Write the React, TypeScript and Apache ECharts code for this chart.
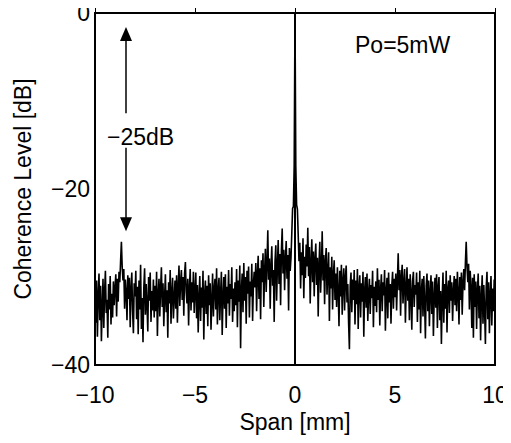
import React, { useEffect, useRef } from "react";
import * as echarts from "echarts";

// Span grid: -10 mm .. 10 mm, 0.04 mm step (501 samples)
const spanStart = -10;
const spanStep = 0.04;

// Coherence level [dB], left half: x = -10.00 .. -0.04 (rows of 1 mm)
const levelLeft: number[] = [
  -31.5, -35.2, -30.4, -36.8, -32.1, -29.6, -34.9, -31.0, -37.3, -33.5, -30.2, -35.8, -31.7, -29.3, -34.1, -32.6, -36.9, -30.8, -33.7, -29.9, -35.4, -31.9, -34.6, -30.5, -33.2,
  -31.3, -29.7, -34.5, -30.2, -32.8, -29.4, -30.6, -28.2, -26.0, -28.9, -30.4, -29.1, -33.6, -30.3, -31.8, -34.9, -29.8, -32.5, -30.1, -35.7, -31.4, -29.5, -33.9, -36.4, -30.7,
  -32.2, -29.3, -34.8, -31.1, -36.5, -30.4, -33.7, -28.6, -35.9, -32.4, -37.4, -31.2, -29.0, -34.3, -30.8, -33.1, -36.2, -30.0, -32.7, -29.5, -35.1, -31.6, -33.8, -30.3, -34.6,
  -31.0, -33.9, -29.4, -36.7, -32.0, -30.2, -34.5, -31.3, -28.9, -33.4, -30.7, -35.6, -32.3, -29.7, -34.0, -31.5, -36.9, -30.6, -33.0, -29.2, -35.3, -31.8, -30.1, -34.7, -32.5,
  -30.4, -33.6, -29.8, -35.2, -31.1, -28.7, -33.3, -30.5, -29.2, -32.6, -30.0, -34.4, -29.6, -28.3, -31.7, -33.0, -30.2, -35.5, -31.4, -29.1, -33.8, -30.6, -32.9, -29.4, -34.1,
  -31.6, -29.5, -34.7, -30.9, -36.3, -32.4, -29.9, -35.0, -31.2, -33.5, -29.3, -37.1, -32.0, -30.4, -34.2, -31.0, -35.6, -29.8, -33.2, -30.7, -36.0, -32.8, -29.6, -34.5, -31.4,
  -30.2, -33.7, -29.0, -35.4, -31.5, -30.1, -34.9, -31.9, -29.4, -36.6, -32.3, -30.0, -33.6, -29.7, -35.8, -31.1, -33.0, -29.2, -34.4, -30.8, -32.5, -28.9, -35.1, -31.3, -33.9,
  -30.6, -33.2, -29.1, -35.7, -30.4, -32.8, -28.7, -38.1, -31.5, -29.6, -34.0, -28.4, -32.7, -30.0, -35.3, -29.3, -31.9, -28.8, -34.6, -30.5, -32.2, -28.5, -35.0, -30.9, -29.4,
  -31.2, -28.4, -33.9, -29.7, -27.6, -32.5, -29.0, -34.8, -28.1, -30.6, -27.3, -33.4, -29.5, -26.8, -31.7, -28.6, -24.7, -30.3, -27.9, -33.6, -28.8, -26.5, -31.0, -29.2, -35.1,
  -28.3, -26.4, -32.7, -28.9, -25.8, -30.8, -27.4, -33.2, -27.0, -24.5, -29.6, -26.9, -31.5, -28.0, -25.9, -30.2, -27.5, -33.8, -26.7, -29.3, -27.8, -25.0, -22.2, -22.0, -17.3,
];

// Peak at zero span
const levelCenter = 0;

// Coherence level [dB], right half: x = 0.04 .. 10.00
const levelRight: number[] = [
  -17.4, -21.8, -22.3, -25.2, -28.2, -26.1, -31.3, -27.2, -29.8, -25.6, -32.4, -27.7, -30.1, -26.3, -28.8, -24.4, -29.9, -26.6, -33.0, -28.5, -25.7, -30.6, -27.1, -32.2, -28.0,
  -26.2, -30.9, -27.8, -34.5, -28.7, -26.0, -31.8, -29.1, -24.8, -30.4, -27.5, -33.1, -28.3, -26.7, -32.0, -29.4, -27.2, -35.0, -28.9, -31.3, -27.7, -33.7, -29.8, -28.1, -32.6,
  -29.6, -33.4, -28.9, -31.7, -35.6, -29.3, -32.2, -28.6, -34.3, -30.5, -29.0, -33.8, -30.1, -28.7, -32.9, -30.8, -35.2, -38.2, -31.0, -29.5, -34.0, -30.3, -32.6, -29.2, -35.4,
  -30.4, -33.1, -29.1, -35.9, -31.2, -29.8, -34.6, -30.7, -32.8, -29.4, -36.8, -31.6, -30.0, -33.5, -29.6, -35.0, -31.8, -30.2, -34.2, -30.9, -32.4, -29.3, -35.7, -31.1, -33.3,
  -30.5, -34.0, -29.0, -32.6, -30.3, -35.5, -31.4, -29.7, -33.9, -30.6, -32.1, -29.2, -36.1, -31.7, -30.1, -34.7, -29.5, -32.9, -30.8, -35.3, -31.0, -29.4, -33.6, -30.2, -32.3,
  -29.6, -33.8, -30.4, -27.3, -31.5, -29.2, -34.4, -30.0, -28.6, -33.0, -30.7, -29.1, -35.2, -31.3, -28.9, -32.7, -30.2, -34.9, -29.7, -31.8, -36.0, -30.5, -29.4, -33.4, -30.9,
  -32.0, -29.5, -35.1, -30.6, -33.7, -29.3, -36.4, -31.5, -30.2, -34.5, -29.9, -32.8, -37.0, -31.0, -29.6, -33.9, -30.4, -35.6, -31.8, -29.8, -34.2, -30.5, -36.7, -32.4, -30.1,
  -33.5, -29.7, -35.8, -31.2, -30.0, -34.9, -31.6, -37.6, -32.3, -29.5, -35.2, -30.8, -33.6, -29.3, -36.3, -31.4, -30.4, -34.1, -29.8, -32.7, -30.6, -35.0, -31.7, -29.9, -33.2,
  -30.2, -33.9, -29.4, -31.8, -35.4, -30.0, -32.6, -29.5, -34.3, -30.7, -29.1, -31.5, -28.4, -26.0, -28.8, -30.6, -28.5, -33.7, -29.3, -31.2, -35.8, -30.1, -36.9, -29.7, -33.4,
  -30.5, -35.9, -31.6, -29.6, -34.7, -31.0, -37.2, -32.4, -29.8, -35.3, -30.9, -33.7, -37.6, -31.2, -29.4, -34.8, -30.6, -36.4, -32.0, -29.9, -35.5, -31.3, -33.9, -30.3, -32.5,
];

// Annotation: arrow span between noise floor peak and main peak
const arrowX = -8.45;
const arrowUpper: [number, number] = [-11.4, -2.4];
const arrowLower: [number, number] = [-15.3, -24.0];

const xTicks = { min: -10, max: 10, interval: 5 };
const yTicks = { min: -40, max: 0, interval: 20 };

const FONT = "'Liberation Sans', Arial, Helvetica, sans-serif";
const FS = 23;

const minus = (v: number) => String(v).replace("-", "\u2212");

export default function App() {
  const ref = useRef<HTMLDivElement>(null);

  useEffect(() => {
    if (!ref.current) return;
    const chart = echarts.init(ref.current, undefined, { renderer: "svg" });

    const levels = [...levelLeft, levelCenter, ...levelRight];
    const data = levels.map((v, i) => [+(spanStart + i * spanStep).toFixed(2), v]);

    chart.setOption({
      animation: false,
      backgroundColor: "#fff",
      grid: {
        left: 95,
        right: 16,
        top: 13,
        bottom: 70,
        outerBoundsMode: "none",
        containLabel: false,
        show: true,
        borderColor: "#000",
        borderWidth: 2,
        backgroundColor: "transparent",
      },
      xAxis: {
        type: "value",
        min: xTicks.min,
        max: xTicks.max,
        interval: xTicks.interval,
        name: "Span [mm]",
        nameLocation: "middle",
        nameGap: 43,
        nameTextStyle: { color: "#000", fontSize: FS, fontFamily: FONT },
        axisLine: { show: true, lineStyle: { color: "#000", width: 2 } },
        axisTick: { show: true, inside: true, length: 5, lineStyle: { color: "#000", width: 1 } },
        axisLabel: {
          color: "#000",
          fontSize: FS,
          fontFamily: FONT,
          margin: 18,
          hideOverlap: false,
          formatter: (v: number) => minus(v),
        },
        splitLine: { show: false },
      },
      yAxis: {
        type: "value",
        min: yTicks.min,
        max: yTicks.max,
        interval: yTicks.interval,
        name: "Coherence Level [dB]",
        nameLocation: "middle",
        nameRotate: 90,
        nameGap: 61,
        nameTextStyle: { color: "#000", fontSize: FS, fontFamily: FONT },
        axisLine: { show: true, lineStyle: { color: "#000", width: 2 } },
        axisTick: { show: false },
        axisLabel: {
          color: "#000",
          fontSize: FS,
          fontFamily: FONT,
          margin: 5,
          padding: [5, 0, 0, 0],
          formatter: (v: number) => minus(v),
        },
        splitLine: { show: false },
      },
      series: [
        {
          type: "line",
          data,
          showSymbol: false,
          symbol: "none",
          lineStyle: { color: "#000", width: 1.6 },
          z: 3,
          markLine: {
            silent: true,
            symbol: ["none", "triangle"],
            symbolSize: [12, 14],
            lineStyle: { color: "#000", width: 1.5, type: "solid" },
            label: { show: false },
            data: [
              [
                { coord: [arrowX, arrowUpper[0]] },
                { coord: [arrowX, arrowUpper[1]] },
              ],
              [
                { coord: [arrowX, arrowLower[0]] },
                { coord: [arrowX, arrowLower[1]] },
              ],
            ],
          },
        },
      ],
      graphic: [
        {
          type: "text",
          left: 107,
          top: 125,
          style: { text: "\u221225dB", fill: "#000", fontSize: FS, fontFamily: FONT },
        },
        {
          type: "text",
          left: 355,
          top: 33,
          style: { text: "Po=5mW", fill: "#000", fontSize: FS, fontFamily: FONT },
        },
      ],
    });

    return () => chart.dispose();
  }, []);

  return (
    <div
      ref={ref}
      style={{ width: 511, height: 435, marginLeft: -8, marginTop: -8 }}
    />
  );
}
